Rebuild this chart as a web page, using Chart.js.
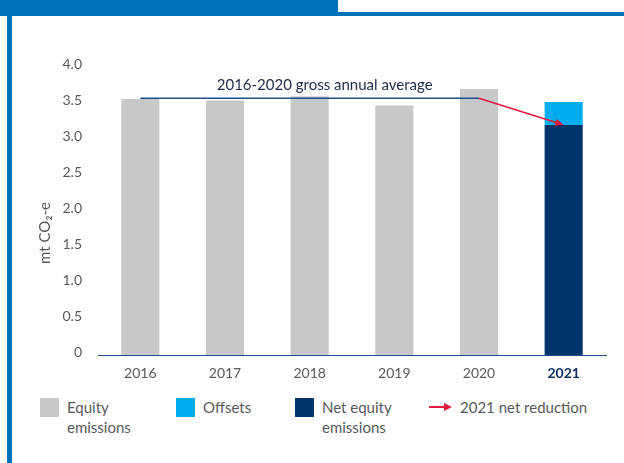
<!DOCTYPE html>
<html>
<head>
<meta charset="utf-8">
<script src="https://cdn.jsdelivr.net/npm/chart.js@4.4.0/dist/chart.umd.min.js"></script>
<style>
  body { margin: 0; background: #fff; font-family: Lato, "Open Sans", sans-serif; }
  #page { position: relative; width: 624px; height: 463px; overflow: hidden; background: #fff; }
  .tab { position: absolute; left: 0; top: 0; width: 338px; height: 15px; background: #0071bb; }
  .rule { position: absolute; left: 0; top: 12px; width: 624px; height: 4px; background: #0071bb; }
  .side { position: absolute; left: 7px; top: 12px; width: 5px; height: 451px; background: #0071bb; }
  #wrap { position: absolute; left: 0; top: 0; }
  .item { position: absolute; top: 397px; font-size: 15px; line-height: 20px; color: #58595b; }
  .sw { position: absolute; top: 1px; width: 19px; height: 19px; }
  .lbl { position: absolute; left: 27px; top: 0; white-space: nowrap; }
</style>
</head>
<body>
<div id="page">
  <div id="wrap"><canvas id="chart" width="624" height="395"></canvas></div>
  <div class="tab"></div>
  <div class="rule"></div>
  <div class="side"></div>

  <div class="item" style="left:40px"><div class="sw" style="background:#c7c8ca"></div><div class="lbl">Equity<br>emissions</div></div>
  <div class="item" style="left:176px"><div class="sw" style="background:#00aeef"></div><div class="lbl">Offsets</div></div>
  <div class="item" style="left:295px"><div class="sw" style="background:#00356b"></div><div class="lbl">Net equity<br>emissions</div></div>
  <div class="item" style="left:429px">
    <svg style="position:absolute;left:0;top:4px" width="24" height="12">
      <line x1="0" y1="6" x2="17" y2="6" stroke="#e4173e" stroke-width="2"/>
      <polygon points="23,6 15,2 15,10" fill="#e4173e"/>
    </svg>
    <div class="lbl" style="left:31px">2021 net reduction</div>
  </div>
</div>

<script>
// equity emissions, mt CO2-e
const years = ['2016', '2017', '2018', '2019', '2020', '2021'];
const equityEmissions = [3.56, 3.54, 3.60, 3.47, 3.70, null];
const netEquityEmissions = [null, null, null, null, null, 3.20];
const offsets = [null, null, null, null, null, 0.32];
const grossAverage = 3.57;
const averageLine = [grossAverage, grossAverage, grossAverage, grossAverage, grossAverage, null];
const yTicks = [0, 0.5, 1.0, 1.5, 2.0, 2.5, 3.0, 3.5, 4.0];

const grey = '#58595b';
const navy = '#0c2d5e';
const red = '#e4173e';

// average label, reduction arrow and y title
const notes = {
  id: 'notes',
  afterDatasetsDraw(chart) {
    const ctx = chart.ctx;
    const xs = chart.scales.x, ys = chart.scales.y;
    const x0 = xs.getPixelForValue(0), x4 = xs.getPixelForValue(4), x5 = xs.getPixelForValue(5);
    const yAvg = ys.getPixelForValue(grossAverage);
    const yNet = ys.getPixelForValue(netEquityEmissions[5]);

    ctx.save();
    ctx.font = '15px Lato';
    ctx.fillStyle = '#1e2a4a';
    ctx.textAlign = 'center';
    ctx.textBaseline = 'middle';
    ctx.fillText('2016-2020 gross annual average', (x0 + x4) / 2 + 15, yAvg - 13);

    // arrow from the average to the 2021 net value
    const ang = Math.atan2(yNet - yAvg, x5 - x4);
    const hl = 9;
    ctx.strokeStyle = red;
    ctx.fillStyle = red;
    ctx.lineWidth = 1.5;
    ctx.beginPath();
    ctx.moveTo(x4, yAvg);
    ctx.lineTo(x5 - Math.cos(ang) * hl * 0.8, yNet - Math.sin(ang) * hl * 0.8);
    ctx.stroke();
    ctx.beginPath();
    ctx.moveTo(x5, yNet);
    ctx.lineTo(x5 - hl * Math.cos(ang - 0.4), yNet - hl * Math.sin(ang - 0.4));
    ctx.lineTo(x5 - hl * Math.cos(ang + 0.4), yNet - hl * Math.sin(ang + 0.4));
    ctx.closePath();
    ctx.fill();

    ctx.translate(45, 233);
    ctx.rotate(-Math.PI / 2);
    ctx.font = '15px Lato';
    ctx.fillStyle = grey;
    ctx.fillText('mt CO\u2082-e', 0, 0);
    ctx.restore();
  }
};

new Chart(document.getElementById('chart'), {
  type: 'bar',
  data: {
    labels: years,
    datasets: [
      { label: 'Equity emissions', data: equityEmissions, backgroundColor: '#c7c8ca', stack: 's', order: 1 },
      { label: 'Net equity emissions', data: netEquityEmissions, backgroundColor: '#00356b', stack: 's', order: 1 },
      { label: 'Offsets', data: offsets, backgroundColor: '#00aeef', stack: 's', order: 1 },
      { type: 'line', label: '2016-2020 gross annual average', data: averageLine, borderColor: '#1f4e8c',
        borderWidth: 1.5, pointRadius: 0, stack: 'avg', order: 0 }
    ]
  },
  options: {
    responsive: false,
    animation: false,
    barPercentage: 0.45,
    categoryPercentage: 1,
    layout: { padding: { left: 0, right: 18, top: 67.4, bottom: 0 } },
    plugins: { legend: { display: false }, tooltip: { enabled: false } },
    scales: {
      x: {
        stacked: true,
        grid: { display: false },
        border: { display: true, color: '#1f4e8c', width: 1 },
        ticks: {
          padding: 2,
          color: c => c.index === 5 ? navy : grey,
          font: c => ({ family: 'Lato', size: 14, weight: c.index === 5 ? 'bold' : 'normal' })
        },
        afterFit: s => { s.height = 40; }
      },
      y: {
        stacked: true,
        min: 0,
        max: 4,
        grid: { display: false },
        border: { display: false },
        afterBuildTicks: s => { s.ticks = yTicks.map(v => ({ value: v })); },
        ticks: {
          padding: 8,
          labelOffset: -3,
          color: grey,
          font: { family: 'Lato', size: 14 },
          callback: v => v === 0 ? '0' : v.toFixed(1)
        },
        afterFit: s => { s.width = 98; }
      }
    }
  },
  plugins: [notes]
});
</script>
</body>
</html>
